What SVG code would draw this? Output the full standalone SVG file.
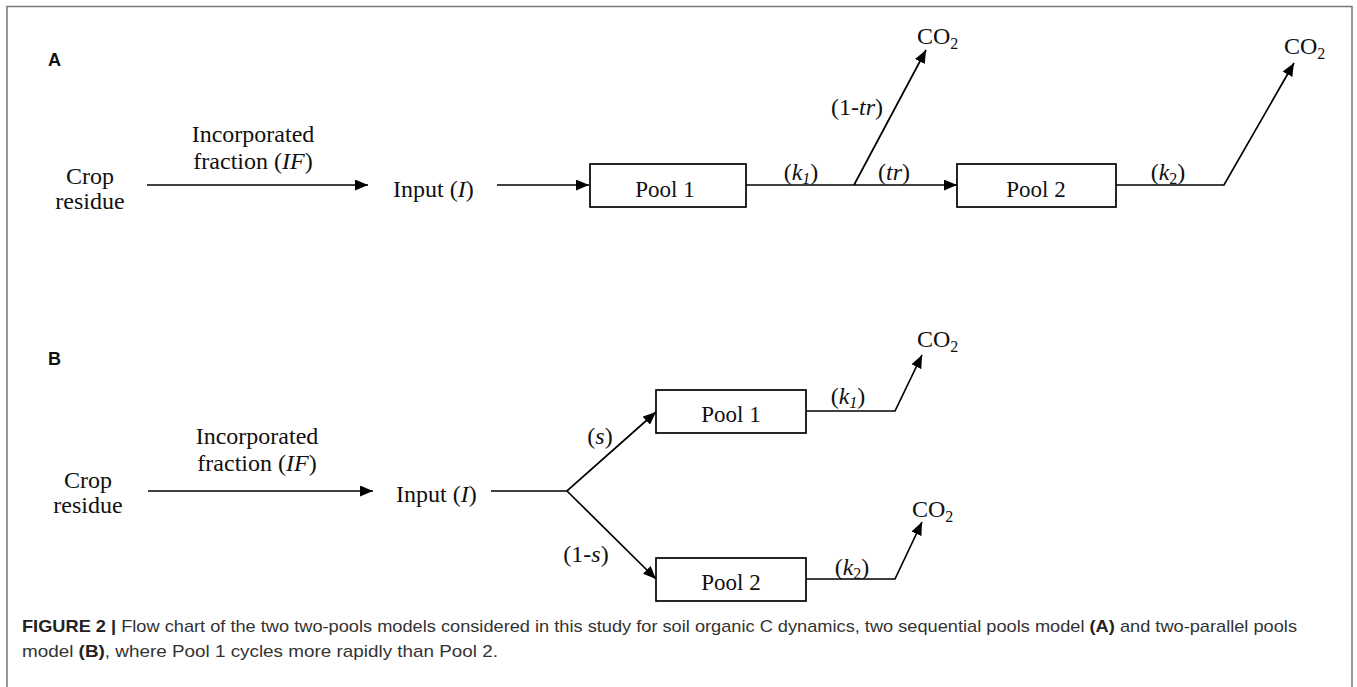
<svg xmlns="http://www.w3.org/2000/svg" width="1357" height="687" viewBox="0 0 1357 687">
<defs>
<marker id="ah" markerUnits="userSpaceOnUse" markerWidth="13" markerHeight="11" refX="13" refY="5.5" orient="auto">
<path d="M0,0 L13,5.5 L0,11 z" fill="#000"/>
</marker>
<style>
.t{font-family:"Liberation Serif","Times New Roman",serif;font-size:24px;fill:#111}
.m{text-anchor:middle}
.pl{font-size:23px}
.lbl{font-family:"Liberation Sans",Arial,sans-serif;font-weight:bold;font-size:18px;fill:#111}
.box{fill:#fff;stroke:#000;stroke-width:1.7}
.arr{fill:none;stroke:#000;stroke-width:1.7;marker-end:url(#ah)}
.cap{font-family:"Liberation Sans",Arial,sans-serif;font-size:17px;fill:#333}
</style>
</defs>
<rect x="0" y="0" width="1357" height="687" fill="#fff"/>
<path d="M7,700 V6.5 H1352 V700" fill="none" stroke="#777" stroke-width="1.5"/>

<g id="connectors">
<line class="arr" x1="147" y1="185" x2="368" y2="185"/>
<line class="arr" x1="497" y1="185" x2="589" y2="185"/>
<line class="arr" x1="746" y1="185" x2="957" y2="185"/>
<line class="arr" x1="854" y1="185" x2="926" y2="50"/>
<polyline class="arr" points="1116,185 1224,185 1294,63"/>
<line class="arr" x1="148" y1="491" x2="373" y2="491"/>
<polyline class="arr" points="491,491 567,491 656,412"/>
<line class="arr" x1="567" y1="491" x2="656" y2="579"/>
<polyline class="arr" points="806,411 895,411 922,355"/>
<polyline class="arr" points="806,579 895,579 922,522"/>
</g>

<g id="panelA">
<text class="lbl" x="48" y="66">A</text>
<g id="a-crop"><text class="t m" x="90" y="184">Crop</text><text class="t m" x="90" y="209">residue</text></g>
<g id="a-if"><text class="t m" x="253" y="142">Incorporated</text><text class="t m" x="253" y="169">fraction (<tspan font-style="italic">IF</tspan>)</text></g>
<g id="a-input"><text class="t" x="393" y="197">Input (<tspan font-style="italic">I</tspan>)</text></g>
<g id="a-pool1"><rect class="box" x="590" y="164" width="156" height="43"/><text class="t m pl" x="665" y="197">Pool 1</text></g>
<g id="a-pool2"><rect class="box" x="957" y="164" width="159" height="43"/><text class="t m pl" x="1036" y="197">Pool 2</text></g>
<g id="a-co2a"><text class="t" x="917" y="44">CO<tspan font-size="16" dy="5">2</tspan></text></g>
<g id="a-co2b"><text class="t" x="1284" y="54">CO<tspan font-size="16" dy="5">2</tspan></text></g>
<text class="t m" x="801" y="180">(<tspan font-style="italic">k</tspan><tspan font-style="italic" font-size="16" dy="4">1</tspan><tspan dy="-4">)</tspan></text>
<text class="t m" x="894" y="180">(<tspan font-style="italic">tr</tspan>)</text>
<text class="t m" x="857" y="115">(1-<tspan font-style="italic">tr</tspan>)</text>
<text class="t m" x="1168" y="180">(<tspan font-style="italic">k</tspan><tspan font-size="16" dy="4">2</tspan><tspan dy="-4">)</tspan></text>
</g>

<g id="panelB">
<text class="lbl" x="48" y="365">B</text>
<g id="b-crop"><text class="t m" x="88" y="488">Crop</text><text class="t m" x="88" y="513">residue</text></g>
<g id="b-if"><text class="t m" x="257" y="444">Incorporated</text><text class="t m" x="257" y="471">fraction (<tspan font-style="italic">IF</tspan>)</text></g>
<g id="b-input"><text class="t" x="396" y="502">Input (<tspan font-style="italic">I</tspan>)</text></g>
<g id="b-pool1"><rect class="box" x="656" y="390" width="150" height="43"/><text class="t m pl" x="731" y="422">Pool 1</text></g>
<g id="b-pool2"><rect class="box" x="656" y="558" width="150" height="43"/><text class="t m pl" x="731" y="590">Pool 2</text></g>
<g id="b-co2a"><text class="t" x="917" y="347">CO<tspan font-size="16" dy="5">2</tspan></text></g>
<g id="b-co2b"><text class="t" x="912" y="517">CO<tspan font-size="16" dy="5">2</tspan></text></g>
<text class="t m" x="600" y="444">(<tspan font-style="italic">s</tspan>)</text>
<text class="t m" x="586" y="562">(1-<tspan font-style="italic">s</tspan>)</text>
<text class="t m" x="848" y="404">(<tspan font-style="italic">k</tspan><tspan font-style="italic" font-size="16" dy="4">1</tspan><tspan dy="-4">)</tspan></text>
<text class="t m" x="852" y="575">(<tspan font-style="italic">k</tspan><tspan font-size="16" dy="4">2</tspan><tspan dy="-4">)</tspan></text>
</g>

<g id="caption">
<text class="cap" x="22" y="632" textLength="1275" lengthAdjust="spacingAndGlyphs"><tspan font-weight="bold" fill="#222">FIGURE 2 |</tspan> Flow chart of the two two-pools models considered in this study for soil organic C dynamics, two sequential pools model <tspan font-weight="bold" fill="#222">(A)</tspan> and two-parallel pools</text>
<text class="cap" x="22" y="657" textLength="476" lengthAdjust="spacingAndGlyphs">model <tspan font-weight="bold" fill="#222">(B)</tspan>, where Pool 1 cycles more rapidly than Pool 2.</text>
</g>
</svg>
